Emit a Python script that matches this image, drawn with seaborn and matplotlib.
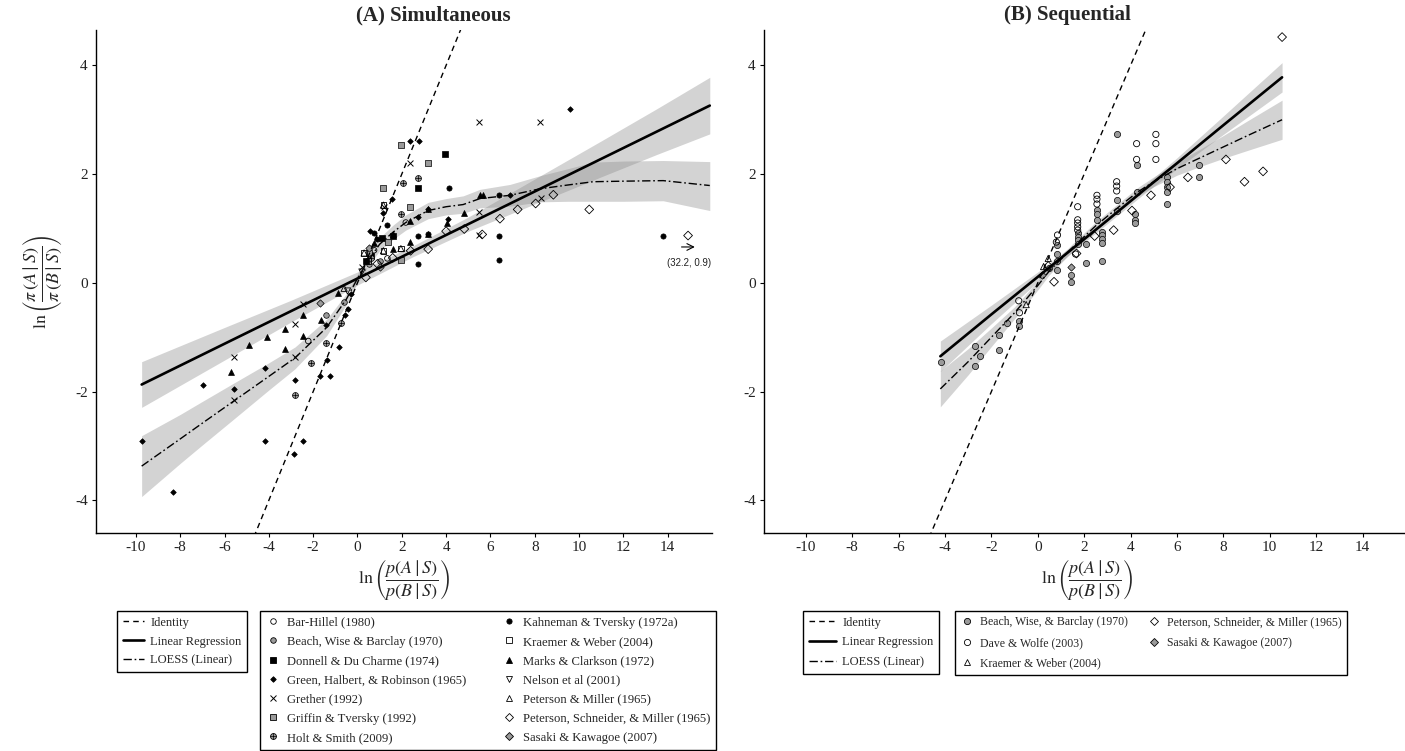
import numpy as np
import pandas as pd
import matplotlib
matplotlib.use("Agg")
import matplotlib.pyplot as plt
from matplotlib.lines import Line2D
import seaborn as sns

# ---------------- data: panel A (simultaneous) ----------------
A_bh_x = [-2.22, 0.75, 1.35, 2.18]
A_bh_y = [-1.07, 0.60, 0.45, 1.11]
A_bwb_x = [-1.42, -0.60, 0.50, 1.00]
A_bwb_y = [-0.59, -0.35, 0.35, 0.40]
A_ddc_x = [0.38, 0.60, 1.10, 1.59, 2.72, 3.93]
A_ddc_y = [0.40, 0.50, 0.82, 0.86, 1.75, 2.37]
A_ghr_x = [-9.74, -8.34, -6.96, -5.57, -4.19, -4.19, -2.87, -2.82, -2.47, -1.69, -1.42, -1.39, -1.24,
           -0.85, -0.55, -0.43, -0.30, 0.55, 1.17, 1.54, 2.37, 2.72, 2.79, 3.19, 4.10, 6.88, 9.60]
A_ghr_y = [-2.91, -3.85, -1.87, -1.96, -1.56, -2.91, -3.14, -1.78, -2.91, -1.71, -0.78, -1.41, -1.71,
           -1.18, -0.60, -0.48, -0.20, 0.95, 1.28, 1.55, 2.60, 1.21, 2.60, 1.36, 1.18, 1.61, 3.20]
A_gr_x = [-5.57, -5.57, -2.81, -2.81, -2.47, 0.20, 1.20, 2.37, 5.50, 5.50, 5.50, 8.24, 8.27]
A_gr_y = [-1.36, -2.16, -1.36, -0.76, -0.39, 0.30, 1.40, 2.21, 2.95, 1.31, 0.88, 2.95, 1.56]
A_gt_x = [0.50, 1.17, 1.40, 1.96, 1.96, 2.37, 3.19]
A_gt_y = [0.55, 1.75, 0.75, 2.53, 0.42, 1.40, 2.21]
A_hs_x = [-2.81, -2.11, -1.42, -0.76, 0.60, 1.96, 2.04, 2.72]
A_hs_y = [-2.06, -1.48, -1.10, -0.73, 0.45, 1.26, 1.83, 1.92]
A_kt_x = [0.74, 0.90, 1.35, 2.72, 2.72, 3.19, 4.12, 6.39, 6.39, 6.39, 13.80]
A_kt_y = [0.91, 0.80, 1.06, 0.34, 0.87, 0.90, 1.75, 0.42, 0.87, 1.61, 0.87]
A_kw_x = [0.30, 0.50, 1.17, 1.17, 1.96]
A_kw_y = [0.55, 0.40, 1.43, 0.59, 0.63]
A_mc_x = [-5.71, -4.88, -4.10, -3.27, -3.27, -2.47, -2.47, -1.66, -0.87, 0.74, 1.59, 1.59, 2.37, 2.37,
          3.19, 3.19, 4.03, 4.82, 5.53, 5.65]
A_mc_y = [-1.64, -1.14, -1.00, -0.84, -1.21, -0.59, -0.98, -0.68, -0.18, 0.74, 0.63, 0.90, 0.75, 1.14,
          0.89, 1.36, 1.10, 1.28, 1.61, 1.61]
A_ne_x = [-0.45, 0.20]
A_ne_y = [-0.15, 0.20]
A_pm_x = [-0.60, 0.30, 1.17, 1.17, 1.96]
A_pm_y = [-0.10, 0.55, 1.43, 0.59, 0.63]
A_psm_x = [0.38, 0.90, 1.59, 2.40, 3.19, 4.00, 4.82, 5.63, 6.43, 7.23, 8.04, 8.84, 10.46, 14.92]
A_psm_y = [0.10, 0.35, 0.46, 0.59, 0.62, 0.95, 0.99, 0.89, 1.18, 1.35, 1.46, 1.62, 1.35, 0.87]
A_sk_x = [-1.69, 0.50, 1.00]
A_sk_y = [-0.37, 0.65, 0.30]

# fitted curves
A_lin_x = [-9.74, -6.0, -3.0, 0.0, 2.5, 5.0, 8.0, 11.0, 13.5, 15.9]
A_lin_y = [-1.87, -1.12, -0.52, 0.08, 0.58, 1.08, 1.68, 2.28, 2.78, 3.26]
A_lin_lo = [-2.29, -1.42, -0.72, -0.04, 0.48, 0.95, 1.45, 1.95, 2.36, 2.74]
A_lin_hi = [-1.45, -0.82, -0.32, 0.20, 0.68, 1.21, 1.91, 2.61, 3.20, 3.78]
A_lo_x = [-9.74, -8.0, -7.0, -5.57, -4.0, -2.82, -1.39, -0.5, 0.0, 0.5, 1.0, 1.6, 2.18, 3.19, 4.0,
          4.77, 5.53, 6.88, 8.24, 9.5, 10.64, 12.0, 13.8, 15.9]
A_lo_y = [-3.37, -2.87, -2.58, -2.17, -1.72, -1.38, -0.82, -0.30, 0.08, 0.42, 0.71, 0.93, 1.11, 1.33,
          1.40, 1.44, 1.55, 1.61, 1.73, 1.80, 1.86, 1.87, 1.88, 1.79]
A_lo_lo = [-3.93, -3.32, -2.98, -2.50, -1.97, -1.58, -0.97, -0.40, 0.00, 0.32, 0.59, 0.80, 0.97, 1.18,
           1.25, 1.28, 1.38, 1.41, 1.49, 1.50, 1.50, 1.50, 1.51, 1.33]
A_lo_hi = [-2.81, -2.42, -2.18, -1.84, -1.47, -1.18, -0.67, -0.20, 0.16, 0.52, 0.83, 1.06, 1.25, 1.48,
           1.55, 1.60, 1.72, 1.81, 1.97, 2.10, 2.22, 2.24, 2.25, 2.23]

# ---------------- data: panel B (sequential) ----------------
B_bwb_x = [-4.18, -2.71, -2.71, -2.50, -1.65, -1.65, -1.32, -0.79, -0.79, 0.49, 0.81, 0.81, 0.81, 0.85,
           1.42, 1.42, 1.72, 1.72, 1.72, 1.72, 2.09, 2.09, 2.55, 2.55, 2.55, 2.78, 2.78, 2.78, 2.78, 2.78,
           3.40, 3.40, 3.40, 4.26, 4.26, 4.17, 4.17, 4.17, 5.57, 5.57, 5.57, 5.57, 5.57, 6.93, 6.93]
B_bwb_y = [-1.45, -1.17, -1.52, -1.34, -0.96, -1.23, -0.74, -0.70, -0.80, 0.27, 0.69, 0.53, 0.40, 0.23,
           0.15, 0.02, 0.91, 0.84, 0.78, 0.72, 0.72, 0.36, 1.34, 1.26, 1.16, 0.94, 0.88, 0.81, 0.73, 0.40,
           2.73, 1.53, 1.32, 2.16, 1.68, 1.26, 1.16, 1.10, 1.95, 1.86, 1.76, 1.67, 1.45, 2.16, 1.94]
B_dw_x = [-0.79, -0.82, 0.80, 0.85, 1.63, 1.72, 1.72, 1.72, 1.72, 1.72, 2.55, 2.55, 2.55, 3.40, 3.40,
          3.40, 4.26, 4.26, 5.09, 5.09, 5.09]
B_dw_y = [-0.55, -0.33, 0.75, 0.88, 0.53, 1.40, 1.16, 1.10, 1.03, 0.97, 1.61, 1.54, 1.45, 1.86, 1.78,
          1.69, 2.56, 2.27, 2.73, 2.56, 2.27]
B_kw_x = [-0.50, 0.25, 0.45]
B_kw_y = [-0.40, 0.30, 0.45]
B_psm_x = [0.45, 0.70, 1.67, 2.45, 3.27, 4.06, 4.88, 5.70, 6.47, 8.11, 8.91, 9.71, 10.53]
B_psm_y = [0.31, 0.02, 0.54, 0.86, 0.97, 1.33, 1.61, 1.76, 1.94, 2.27, 1.86, 2.05, 4.52]
B_sk_x = [0.20, 1.42]
B_sk_y = [0.15, 0.29]

B_lin_x = [-4.2, -2.0, 0.0, 1.5, 3.0, 4.5, 6.0, 8.0, 10.53]
B_lin_y = [-1.35, -0.58, 0.11, 0.63, 1.15, 1.68, 2.20, 2.90, 3.78]
B_lin_lo = [-1.63, -0.75, 0.02, 0.57, 1.09, 1.61, 2.10, 2.73, 3.51]
B_lin_hi = [-1.07, -0.41, 0.20, 0.69, 1.21, 1.75, 2.30, 3.07, 4.05]
B_lo_x = [-4.2, -3.0, -2.0, -1.0, 0.0, 0.5, 1.5, 2.5, 3.5, 4.3, 5.0, 6.0, 7.0, 8.0, 9.0, 10.53]
B_lo_y = [-1.95, -1.45, -1.00, -0.55, -0.05, 0.22, 0.65, 1.05, 1.40, 1.67, 1.86, 2.10, 2.30, 2.50, 2.70, 3.00]
B_lo_lo = [-2.28, -1.69, -1.17, -0.66, -0.13, 0.15, 0.58, 0.98, 1.33, 1.59, 1.77, 1.98, 2.14, 2.29, 2.43, 2.64]
B_lo_hi = [-1.62, -1.21, -0.83, -0.44, 0.03, 0.29, 0.72, 1.12, 1.47, 1.75, 1.95, 2.22, 2.46, 2.71, 2.97, 3.36]

identity_x = [-6.0, 6.0]
identity_y = [-6.0, 6.0]

A_studies = ["Bar-Hillel (1980)", "Beach, Wise & Barclay (1970)", "Donnell & Du Charme (1974)",
             "Green, Halbert, & Robinson (1965)", "Grether (1992)", "Griffin & Tversky (1992)",
             "Holt & Smith (2009)", "Kahneman & Tversky (1972a)", "Kraemer & Weber (2004)",
             "Marks & Clarkson (1972)", "Nelson et al (2001)", "Peterson & Miller (1965)",
             "Peterson, Schneider, & Miller (1965)", "Sasaki & Kawagoe (2007)"]
B_studies = ["Beach, Wise, & Barclay (1970)", "Dave & Wolfe (2003)", "Kraemer & Weber (2004) ",
             "Peterson, Schneider, & Miller (1965)", "Sasaki & Kawagoe (2007)"]

A_xy = [(A_bh_x, A_bh_y), (A_bwb_x, A_bwb_y), (A_ddc_x, A_ddc_y), (A_ghr_x, A_ghr_y), (A_gr_x, A_gr_y),
        (A_gt_x, A_gt_y), (A_hs_x, A_hs_y), (A_kt_x, A_kt_y), (A_kw_x, A_kw_y), (A_mc_x, A_mc_y),
        (A_ne_x, A_ne_y), (A_pm_x, A_pm_y), (A_psm_x, A_psm_y), (A_sk_x, A_sk_y)]
B_xy = [(B_bwb_x, B_bwb_y), (B_dw_x, B_dw_y), (B_kw_x, B_kw_y), (B_psm_x, B_psm_y), (B_sk_x, B_sk_y)]

# ---------------- styles ----------------
GREY = "#9a9a9a"
style = {
    "Bar-Hillel (1980)": dict(marker="o", fc="none", s=16),
    "Beach, Wise & Barclay (1970)": dict(marker="o", fc=GREY, s=16),
    "Beach, Wise, & Barclay (1970)": dict(marker="o", fc=GREY, s=20),
    "Dave & Wolfe (2003)": dict(marker="o", fc="none", s=20),
    "Donnell & Du Charme (1974)": dict(marker="s", fc="black", s=14),
    "Green, Halbert, & Robinson (1965)": dict(marker="D", fc="black", s=8),
    "Grether (1992)": dict(marker="x", fc="black", s=18),
    "Griffin & Tversky (1992)": dict(marker="s", fc=GREY, s=16),
    "Holt & Smith (2009)": dict(marker="o", fc=GREY, s=18, plus=True),
    "Kahneman & Tversky (1972a)": dict(marker="o", fc="black", s=14),
    "Kraemer & Weber (2004)": dict(marker="s", fc="none", s=16),
    "Kraemer & Weber (2004) ": dict(marker="^", fc="none", s=20),
    "Marks & Clarkson (1972)": dict(marker="^", fc="black", s=18),
    "Nelson et al (2001)": dict(marker="v", fc="none", s=20),
    "Peterson & Miller (1965)": dict(marker="^", fc="none", s=20),
    "Peterson, Schneider, & Miller (1965)": dict(marker="D", fc="none", s=20),
    "Sasaki & Kawagoe (2007)": dict(marker="D", fc=GREY, s=14),
}

sns.set_theme(style="ticks")
plt.rcParams["font.family"] = ["Liberation Serif", "DejaVu Serif"]
plt.rcParams["mathtext.fontset"] = "stix"

fig = plt.figure(figsize=(14.05, 7.51), dpi=100)
axA = fig.add_axes([96 / 1405, 1 - 533 / 751, (712 - 96) / 1405, (533 - 30) / 751])
axB = fig.add_axes([764 / 1405, 1 - 533 / 751, (1409 - 764) / 1405, (533 - 30) / 751])

RIB = dict(color="#8c8c8c", alpha=0.38, linewidth=0, zorder=1)
LOESS_LS = (0, (6, 2, 1.2, 2))
IDENT_LS = (0, (4, 3))


def draw_points(ax, names, xy):
    for name, (xs, ys) in zip(names, xy):
        st = style[name]
        df = pd.DataFrame({"x": xs, "y": ys})
        if st["marker"] == "x":
            sns.scatterplot(data=df, x="x", y="y", ax=ax, marker="x", color="black",
                            s=st["s"], linewidth=0.7, legend=False, zorder=3)
        elif st["fc"] == "none":
            sns.scatterplot(data=df, x="x", y="y", ax=ax, marker=st["marker"], facecolor="none",
                            edgecolor="black", s=st["s"], linewidth=0.6, legend=False, zorder=3)
        else:
            sns.scatterplot(data=df, x="x", y="y", ax=ax, marker=st["marker"], color=st["fc"],
                            edgecolor="black", s=st["s"], linewidth=0.5, legend=False, zorder=3)
        if st.get("plus"):
            sns.scatterplot(data=df, x="x", y="y", ax=ax, marker="+", color="black",
                            s=st["s"] * 0.9, linewidth=0.5, legend=False, zorder=4)


def draw_fits(ax, lx, ly, llo, lhi, ox, oy, olo, ohi):
    ax.fill_between(lx, llo, lhi, **RIB)
    ax.fill_between(ox, olo, ohi, **RIB)
    sns.lineplot(x=identity_x, y=identity_y, ax=ax, color="black", linewidth=1.0,
                 linestyle=IDENT_LS, sort=False, estimator=None, zorder=5)
    sns.lineplot(x=lx, y=ly, ax=ax, color="black", linewidth=1.9, sort=False,
                 estimator=None, zorder=5)
    sns.lineplot(x=ox, y=oy, ax=ax, color="black", linewidth=1.0, linestyle=LOESS_LS,
                 sort=False, estimator=None, zorder=5)


draw_fits(axA, A_lin_x, A_lin_y, A_lin_lo, A_lin_hi, A_lo_x, A_lo_y, A_lo_lo, A_lo_hi)
draw_points(axA, A_studies, A_xy)
draw_fits(axB, B_lin_x, B_lin_y, B_lin_lo, B_lin_hi, B_lo_x, B_lo_y, B_lo_lo, B_lo_hi)
draw_points(axB, B_studies, B_xy)

# out-of-range marker note
axA.annotate("", xy=(15.35, 0.66), xytext=(14.5, 0.66),
             arrowprops=dict(arrowstyle="->", lw=0.8, color="black"))
axA.text(14.95, 0.37, "(32.2, 0.9)", fontsize=7, family="Liberation Sans", ha="center",
         va="center", color="#222222")

xlab = r"$\ln\left(\dfrac{p(A\mid S)}{p(B\mid S)}\right)$"
ylab = r"$\ln\left(\dfrac{\pi\,(A\mid S)}{\pi\,(B\mid S)}\right)$"
for ax in (axA, axB):
    ax.set_xlim(-11.8, 16.0)
    ax.set_ylim(-4.6, 4.65)
    ax.set_xticks(np.arange(-10, 15, 2))
    ax.set_yticks(np.arange(-4, 5, 2))
    ax.set_xticklabels([str(v) for v in range(-10, 15, 2)])
    ax.set_yticklabels([str(v) for v in range(-4, 5, 2)])
    for sp in ("top", "right"):
        ax.spines[sp].set_visible(False)
    for sp in ("left", "bottom"):
        ax.spines[sp].set_linewidth(1.0)
        ax.spines[sp].set_color("black")
    ax.tick_params(direction="out", length=3, width=0.8, labelsize=11, colors="black",
                   labelcolor="#222222", pad=3)
    ax.set_xlabel(xlab, fontsize=13, labelpad=2)
    ax.set_ylabel("")
    ax.grid(False)
    ax.set_facecolor("white")
axA.set_ylabel(ylab, fontsize=13, labelpad=8)

fig.text(433 / 1405, 1 - 15 / 751, "(A) Simultaneous", ha="center", va="center",
         fontsize=15, fontweight="bold")
fig.text(1067 / 1405, 1 - 15 / 751, "(B) Sequential", ha="center", va="center",
         fontsize=15, fontweight="bold")

# ---------------- legends ----------------
fit_handles = [
    Line2D([], [], color="black", lw=1.0, linestyle=IDENT_LS),
    Line2D([], [], color="black", lw=1.9),
    Line2D([], [], color="black", lw=1.0, linestyle=LOESS_LS),
]
fit_labels = ["Identity", "Linear Regression", "LOESS (Linear)"]


def study_handle(name):
    st = style[name]
    ms = np.sqrt(st["s"])
    if st["marker"] == "x":
        return Line2D([], [], marker="x", linestyle="none", color="black", markersize=ms, mew=0.7)
    h = Line2D([], [], marker=st["marker"], linestyle="none", markerfacecolor=st["fc"],
               markeredgecolor="black", markersize=ms, mew=0.6)
    if st.get("plus"):
        p = Line2D([], [], marker="+", linestyle="none", color="black", markersize=ms, mew=0.5)
        return (h, p)
    return h


LEG = dict(frameon=True, fancybox=False, edgecolor="black", framealpha=1,
           borderpad=0.45, handletextpad=0.5, borderaxespad=0)

l1 = fig.legend(fit_handles, fit_labels, loc="upper left", bbox_to_anchor=(117 / 1405, 1 - 611 / 751),
                handlelength=1.7, fontsize=9.0, labelspacing=0.56, **LEG)
l2 = fig.legend([study_handle(n) for n in A_studies], A_studies, loc="upper left",
                bbox_to_anchor=(260 / 1405, 1 - 611 / 751), ncol=2, handlelength=1.2,
                columnspacing=2.8, fontsize=9.1, labelspacing=0.57, **LEG)
l3 = fig.legend(fit_handles, fit_labels, loc="upper left", bbox_to_anchor=(803 / 1405, 1 - 611 / 751),
                handlelength=2.2, fontsize=9.0, labelspacing=0.62, **LEG)
l4 = fig.legend([study_handle(n) for n in B_studies], [n.strip() for n in B_studies], loc="upper left",
                bbox_to_anchor=(955 / 1405, 1 - 611 / 751), ncol=2, handlelength=1.2,
                columnspacing=1.6, fontsize=8.5, labelspacing=0.72, **LEG)
for lg in (l1, l2, l3, l4):
    lg.get_frame().set_linewidth(1.0)

fig.savefig("out.png", dpi=100, facecolor="white")
